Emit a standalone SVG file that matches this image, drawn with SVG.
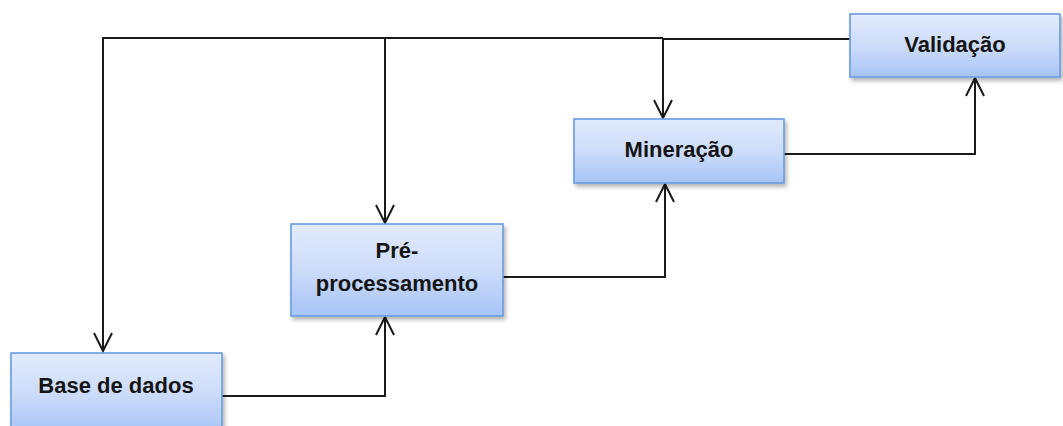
<svg xmlns="http://www.w3.org/2000/svg" width="1063" height="426" viewBox="0 0 1063 426">
  <style>
    .box { fill: url(#boxFill); stroke: #6a9be0; stroke-width: 1.6; filter: url(#shade); }
    .label { font-family: "Liberation Sans", Arial, sans-serif; font-weight: bold; font-size: 22px; fill: #141414; text-anchor: middle; }
    .wire { fill: none; stroke: #1a1a1a; stroke-width: 2; }
  </style>
  <defs>
    <linearGradient id="boxFill" x1="0" y1="0" x2="0" y2="1">
      <stop offset="0" stop-color="#e2ebfc"/>
      <stop offset="0.5" stop-color="#cddcfa"/>
      <stop offset="1" stop-color="#a7c4f6"/>
    </linearGradient>
    <filter id="shade" x="-10%" y="-10%" width="125%" height="135%">
      <feDropShadow dx="2" dy="3" stdDeviation="2" flood-color="#000" flood-opacity="0.3"/>
    </filter>
    <!-- open V arrowhead, pointing along the line -->
    <marker id="openArrow" viewBox="-1 -11 22 22" refX="19" refY="0" markerWidth="22" markerHeight="22" markerUnits="userSpaceOnUse" orient="auto">
      <path d="M1,-9 L19,0 L1,9" fill="none" stroke="#1a1a1a" stroke-width="2"/>
    </marker>
  </defs>

  <rect width="1063" height="426" fill="#ffffff"/>

  <!-- connectors -->
  <g id="connectors">
    <!-- forward flow -->
    <path class="wire" d="M222,396 H385 V317" marker-end="url(#openArrow)"/>
    <path class="wire" d="M503,277 H665 V184" marker-end="url(#openArrow)"/>
    <path class="wire" d="M784,154 H975 V78" marker-end="url(#openArrow)"/>
    <!-- feedback from validation -->
    <path class="wire" d="M850,39 H663 V118" marker-end="url(#openArrow)"/>
    <path class="wire" d="M663,38 H103 V351" marker-end="url(#openArrow)"/>
    <path class="wire" d="M385,38 V223" marker-end="url(#openArrow)"/>
  </g>

  <g id="node-base">
    <rect class="box" x="11" y="353" width="211" height="80"/>
    <text class="label" x="116" y="393">Base de dados</text>
  </g>

  <g id="node-pre">
    <rect class="box" x="291" y="224" width="212" height="92"/>
    <text class="label" x="397" y="258">Pré-</text>
    <text class="label" x="397" y="291">processamento</text>
  </g>

  <g id="node-mineracao">
    <rect class="box" x="574" y="119" width="210" height="64"/>
    <text class="label" x="679" y="157">Mineração</text>
  </g>

  <g id="node-validacao">
    <rect class="box" x="850" y="14" width="210" height="63"/>
    <text class="label" x="955" y="52">Validação</text>
  </g>
</svg>
